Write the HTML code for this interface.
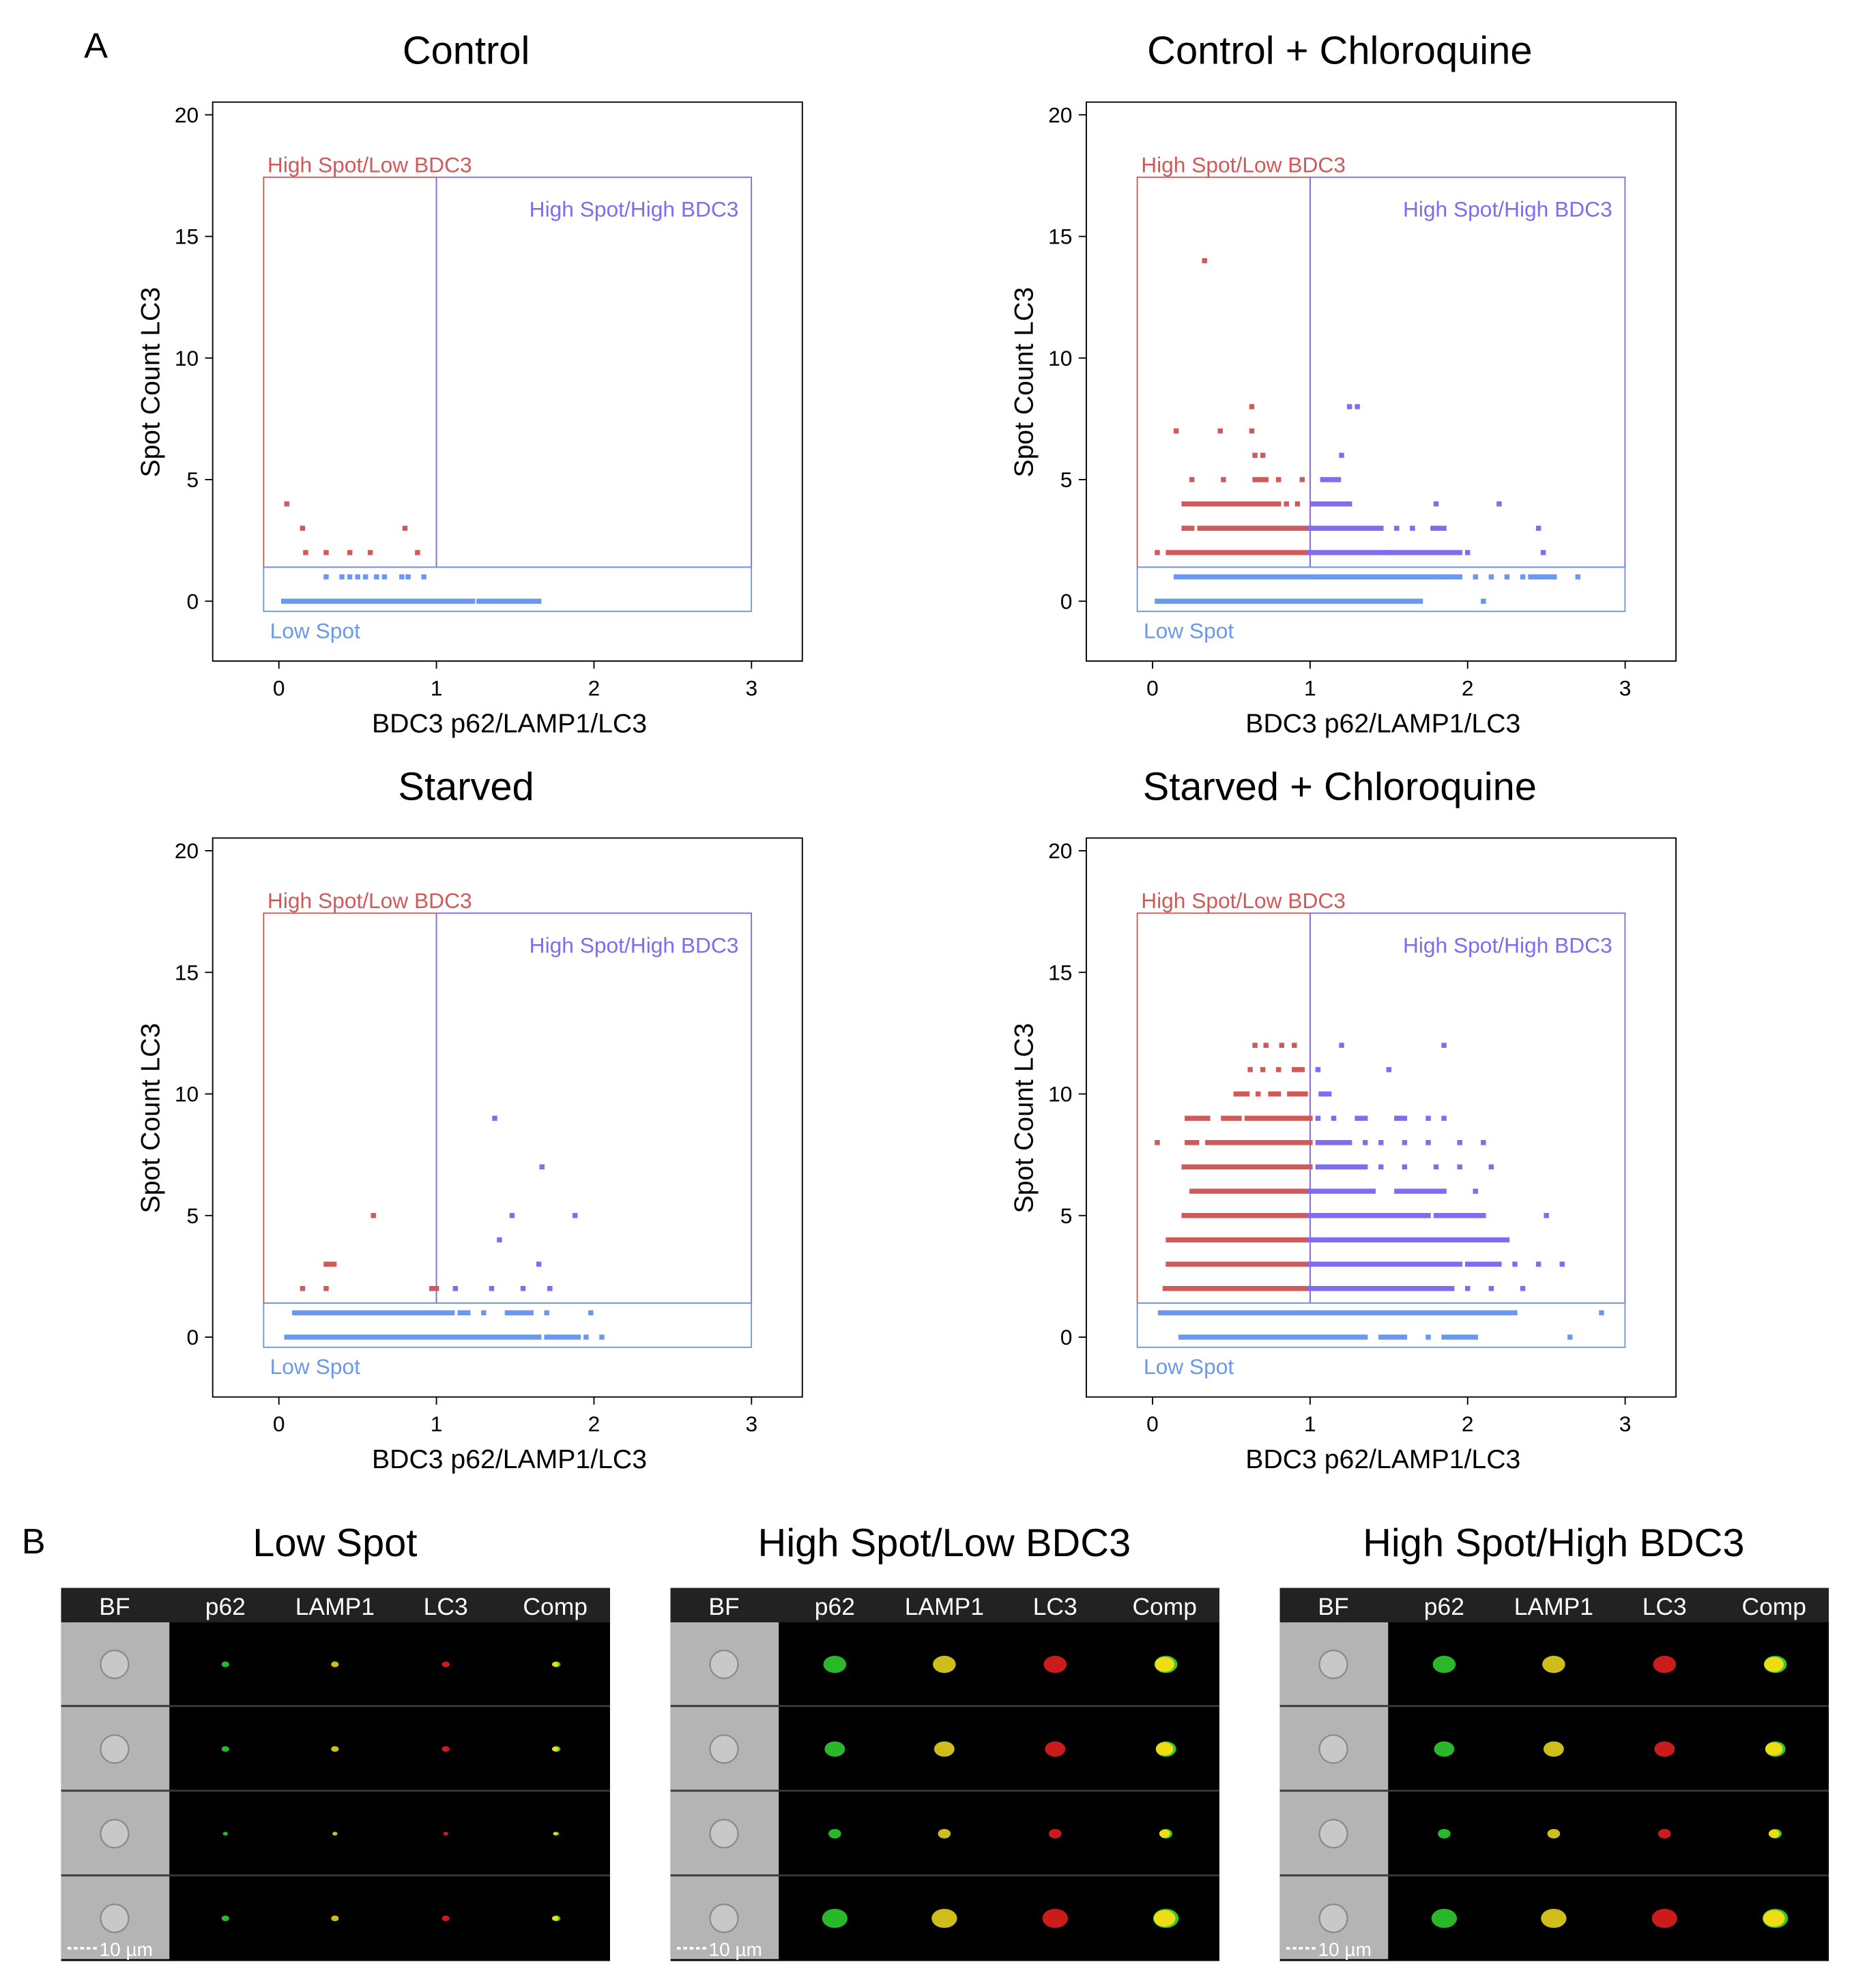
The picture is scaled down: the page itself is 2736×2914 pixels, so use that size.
<!DOCTYPE html>
<html><head><meta charset="utf-8">
<style>
html,body{margin:0;padding:0;background:#fff;}
svg{display:block;font-family:"Liberation Sans",Arial,sans-serif;}
</style></head>
<body>
<svg id="fig" width="2736" height="2914" viewBox="0 0 1466 1561" xmlns="http://www.w3.org/2000/svg">
<text x="66" y="45" font-size="28">A</text>
<text x="17" y="1220" font-size="28">B</text>
<g id="charts"></g>
<g id="grids"></g>
</svg>
<script>
// Data: each entry [spotCount, bdc3Start, bdc3End]; start==end means a single point
const controlPoints = [[4,0.05,0.05],[3,0.15,0.15],[3,0.8,0.8],[2,0.17,0.17],[2,0.3,0.3],[2,0.45,0.45],[2,0.58,0.58],[2,0.88,0.88],
 [1,0.3,0.3],[1,0.4,0.4],[1,0.45,0.45],[1,0.5,0.5],[1,0.55,0.55],[1,0.62,0.62],[1,0.67,0.67],[1,0.78,0.78],[1,0.82,0.82],[1,0.92,0.92],
 [0,0.03,1.23],[0,1.27,1.65]];
const controlCQPoints = [[14,0.33,0.33],[8,0.63,0.63],[8,1.25,1.25],[8,1.3,1.3],[7,0.15,0.15],[7,0.43,0.43],[7,0.63,0.63],[6,0.65,0.65],[6,0.7,0.7],[6,1.2,1.2],
 [5,0.25,0.25],[5,0.45,0.45],[5,0.65,0.72],[5,0.8,0.8],[5,0.95,0.95],[5,1.08,1.18],[4,0.2,0.8],[4,0.85,0.85],[4,0.92,0.92],[4,1.02,1.25],[4,1.8,1.8],[4,2.2,2.2],
 [3,0.2,0.25],[3,0.3,1.0],[3,1.0,1.45],[3,1.55,1.55],[3,1.65,1.65],[3,1.78,1.85],[3,2.45,2.45],
 [2,0.03,0.03],[2,0.1,1.0],[2,1.0,1.5],[2,1.5,1.95],[2,2.0,2.0],[2,2.48,2.48],
 [1,0.15,1.8],[1,1.82,1.95],[1,2.05,2.05],[1,2.15,2.15],[1,2.25,2.25],[1,2.35,2.35],[1,2.4,2.55],[1,2.7,2.7],
 [0,0.03,1.7],[0,2.1,2.1]];
const starvedPoints = [[9,1.37,1.37],[7,1.67,1.67],[5,0.6,0.6],[5,1.48,1.48],[5,1.88,1.88],[4,1.4,1.4],[3,0.3,0.35],[3,1.65,1.65],
 [2,0.15,0.15],[2,0.3,0.3],[2,0.97,1.0],[2,1.12,1.12],[2,1.35,1.35],[2,1.55,1.55],[2,1.72,1.72],
 [1,0.1,1.1],[1,1.15,1.2],[1,1.3,1.3],[1,1.45,1.6],[1,1.7,1.7],[1,1.98,1.98],
 [0,0.05,1.65],[0,1.7,1.9],[0,1.95,1.95],[0,2.05,2.05]];
const starvedCQPoints = [[12,0.65,0.65],[12,0.72,0.72],[12,0.82,0.82],[12,0.9,0.9],[12,1.2,1.2],[12,1.85,1.85],
 [11,0.62,0.62],[11,0.7,0.7],[11,0.8,0.8],[11,0.9,0.95],[11,1.05,1.05],[11,1.5,1.5],
 [10,0.53,0.6],[10,0.67,0.67],[10,0.75,0.8],[10,0.87,0.97],[10,1.07,1.12],
 [9,0.22,0.35],[9,0.45,0.55],[9,0.6,1.0],[9,1.05,1.05],[9,1.15,1.15],[9,1.3,1.35],[9,1.55,1.6],[9,1.75,1.75],[9,1.85,1.85],
 [8,0.03,0.03],[8,0.22,0.28],[8,0.35,1.0],[8,1.05,1.25],[8,1.35,1.35],[8,1.45,1.45],[8,1.6,1.6],[8,1.75,1.75],[8,1.95,1.95],[8,2.1,2.1],
 [7,0.2,1.0],[7,1.05,1.35],[7,1.45,1.45],[7,1.6,1.6],[7,1.8,1.8],[7,1.95,1.95],[7,2.15,2.15],
 [6,0.25,1.0],[6,1.0,1.4],[6,1.55,1.85],[6,2.05,2.05],
 [5,0.2,1.0],[5,1.0,1.75],[5,1.8,2.1],[5,2.5,2.5],
 [4,0.1,1.0],[4,1.0,2.25],[3,0.1,1.0],[3,1.0,1.95],[3,2.0,2.2],[3,2.3,2.3],[3,2.45,2.45],[3,2.6,2.6],
 [2,0.08,1.0],[2,1.0,1.9],[2,2.0,2.0],[2,2.15,2.15],[2,2.35,2.35],
 [1,0.05,2.3],[1,2.85,2.85],[0,0.18,1.35],[0,1.45,1.6],[0,1.75,1.75],[0,1.85,2.05],[0,2.65,2.65]];
const panelTitles = ["Control","Control + Chloroquine","Starved","Starved + Chloroquine"];
const xTicks = [0,1,2,3];
const yTicks = [0,5,10,15,20];
const gridTitles = ["Low Spot","High Spot/Low BDC3","High Spot/High BDC3"];
const channelLabels = ["BF","p62","LAMP1","LC3","Comp"];

const NS="http://www.w3.org/2000/svg";
function mk(tag,attrs,parent,txt){const e=document.createElementNS(NS,tag);for(const k in attrs)e.setAttribute(k,attrs[k]);if(txt!==undefined)e.textContent=txt;parent.appendChild(e);return e;}
const RED="#d05a5a",PUR="#7f6cf0",BLU="#6a98ec";
const datasets=[controlPoints,controlCQPoints,starvedPoints,starvedCQPoints];
const charts=document.getElementById('charts');
datasets.forEach((data,i)=>{
  const ox=(i%2)*686, oy=Math.floor(i/2)*578;
  const X=v=>ox+219+v*123.7, Y=v=>oy+472-v*19.1;
  const g=mk('g',{},charts);
  
  
  const t=mk('text',{x:ox+366,y:oy+50,'font-size':31,'text-anchor':'middle'},g,panelTitles[i]);
  
  
  const box=mk('rect',{x:ox+167,y:oy+80,width:463,height:439,fill:'none',stroke:'#000','stroke-width':1},g);
  
  
  yTicks.forEach(v=>{
    mk('line',{x1:ox+161,x2:ox+167,y1:Y(v),y2:Y(v),stroke:'#000'},g);
    const l=mk('text',{x:ox+156,y:Y(v)+6,'font-size':17,'text-anchor':'end'},g,String(v));
    
    
  });
  xTicks.forEach(v=>{
    mk('line',{x1:X(v),x2:X(v),y1:oy+519,y2:oy+525,stroke:'#000'},g);
    const l=mk('text',{x:X(v),y:oy+546,'font-size':17,'text-anchor':'middle'},g,String(v));
    
    
  });
  const xt=mk('text',{x:ox+400,y:oy+575,'font-size':21,'text-anchor':'middle'},g,'BDC3 p62/LAMP1/LC3');
  
  
  const yt=mk('text',{x:0,y:0,'font-size':21,'text-anchor':'middle',transform:`translate(${ox+125},${oy+300}) rotate(-90)`},g,'Spot Count LC3');
  
  
  const gx0=ox+207, gx1=X(1), gx2=ox+590, gy0=oy+139, gy1=Y(1.4), gy2=oy+480;
  const r1=mk('rect',{x:gx0,y:gy0,width:gx1-gx0,height:gy1-gy0,fill:'none',stroke:RED},g);
  
  
  const r2=mk('rect',{x:gx1,y:gy0,width:gx2-gx1,height:gy1-gy0,fill:'none',stroke:PUR},g);
  
  
  const r3=mk('rect',{x:gx0,y:gy1,width:gx2-gx0,height:gy2-gy1,fill:'none',stroke:BLU},g);
  
  
  const a=mk('text',{x:gx0+3,y:gy0-4,'font-size':17,fill:RED},g,'High Spot/Low BDC3');
  
  
  const b=mk('text',{x:gx2-10,y:gy0+31,'font-size':17,fill:PUR,'text-anchor':'end'},g,'High Spot/High BDC3');
  
  
  const c=mk('text',{x:gx0+5,y:gy2+21,'font-size':17,fill:BLU},g,'Low Spot');
  
  
  data.forEach(d=>{
    const [yv,a0,a1]=d;
    const col=yv<1.5?BLU:(a0<1?RED:PUR);
    const p=mk('rect',{x:X(a0)-2,y:Y(yv)-2,width:Math.max(4,X(a1)-X(a0)+4),height:4,fill:col},g);
    
    
  });
});
const grids=document.getElementById('grids');
gridTitles.forEach((tt,gi)=>{
  const gx=48+gi*478.5, gy=1247;
  const g=mk('g',{},grids);
  
  
  const t=mk('text',{x:gx+215,y:1222,'font-size':31,'text-anchor':'middle'},g,tt);
  
  
  mk('rect',{x:gx,y:gy,width:431,height:293,fill:'#000'},g);
  mk('rect',{x:gx,y:gy,width:431,height:27,fill:'#222'},g);
  const cx=[42,129,215,302,388];
  channelLabels.forEach((c,ci)=>{
    const l=mk('text',{x:gx+cx[ci],y:gy+21,'font-size':19,fill:'#fff','text-anchor':'middle'},g,c);
    
    
  });
  for(let r=0;r<4;r++){
    const ry=gy+27+r*66.5;
    mk('rect',{x:gx,y:ry,width:85,height:65,fill:'#b4b4b4'},g);
    mk('circle',{cx:gx+42,cy:ry+33,r:11,fill:'#c8c8c8',stroke:'#8a8a8a','stroke-width':1.2},g);
    if(r<3) mk('rect',{x:gx,y:ry+65,width:431,height:1.5,fill:'#3a3a3a'},g);
    const s=(gi===0?[3,3,2,3][r]:[9,8,5,10][r]);
    const cols=['#2ecc2e','#e6d21e','#e21e1e',null];
    [1,2,3,4].forEach(ci=>{
      const x=gx+cx[ci], y=ry+33;
      if(ci<4){
        const e=mk('ellipse',{cx:x,cy:y,rx:s,ry:s*0.75,fill:cols[ci-1],opacity:0.9},g);
        
        
      } else {
        mk('ellipse',{cx:x+1,cy:y,rx:s,ry:s*0.75,fill:'#2ecc2e'},g);
        const e=mk('ellipse',{cx:x,cy:y,rx:s*0.85,ry:s*0.65,fill:'#f0dc14'},g);
        
        
      }
    });
  }
  mk('line',{x1:gx+5,x2:gx+28,y1:gy+283,y2:gy+283,stroke:'#fff','stroke-width':2,'stroke-dasharray':'3,2'},g);
  const sb=mk('text',{x:gx+30,y:gy+289,'font-size':15,fill:'#fff'},g,'10 µm');
  
  
});
</script>
</body></html>
